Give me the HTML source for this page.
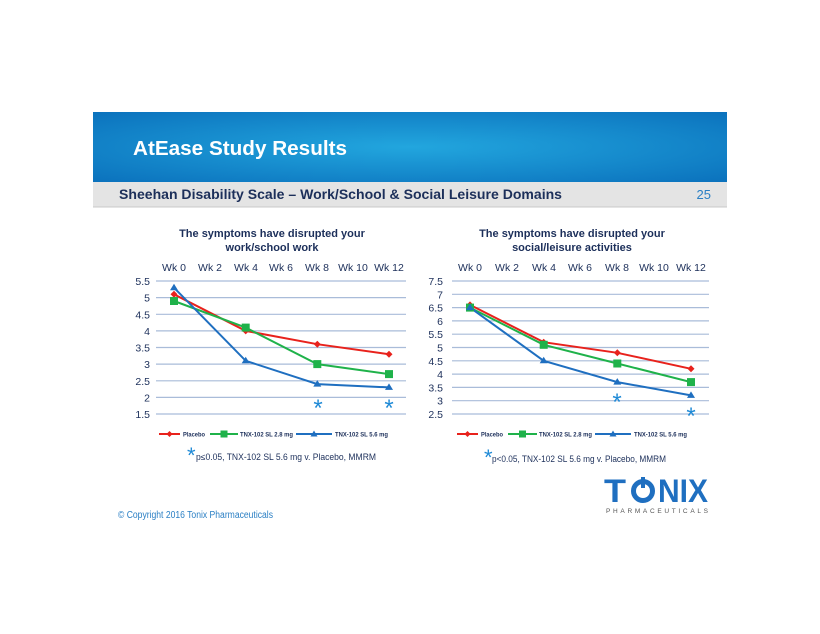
<!DOCTYPE html>
<html><head><meta charset="utf-8"><style>
body{margin:0;background:#fff;}
svg{display:block;font-family:"Liberation Sans","DejaVu Sans",sans-serif;}
</style></head><body>
<svg width="820" height="634" viewBox="0 0 820 634">
<defs>
<radialGradient id="bg" cx="0.5" cy="0.5" r="0.7">
<stop offset="0" stop-color="#22a6de"/><stop offset="1" stop-color="#0b72bd"/>
</radialGradient>
</defs>
<rect x="93" y="112" width="634" height="70" fill="url(#bg)"/>
<text x="133" y="155" font-size="20" font-weight="bold" fill="#fff" textLength="214" lengthAdjust="spacingAndGlyphs">AtEase Study Results</text>
<rect x="93" y="182" width="634" height="25" fill="#e4e4e4"/>
<line x1="93" y1="207" x2="727" y2="207" stroke="#c8c8c8"/>
<text x="119" y="199" font-size="14" font-weight="bold" fill="#1c2f5a" textLength="443" lengthAdjust="spacingAndGlyphs">Sheehan Disability Scale – Work/School &amp; Social Leisure Domains</text>
<text x="711" y="199" font-size="13" fill="#2a7fc4" text-anchor="end">25</text>

<g font-size="11" font-weight="bold" fill="#1c2f5a" text-anchor="middle">
<text x="272" y="237">The symptoms have disrupted your</text>
<text x="272" y="251">work/school work</text>
<text x="572" y="237">The symptoms have disrupted your</text>
<text x="572" y="251">social/leisure activities</text>
</g>
<g stroke="#a9bcd9" stroke-width="1.2">
<line x1="156" x2="406" y1="281" y2="281"/><line x1="156" x2="406" y1="297.6" y2="297.6"/><line x1="156" x2="406" y1="314.3" y2="314.3"/><line x1="156" x2="406" y1="330.9" y2="330.9"/><line x1="156" x2="406" y1="347.5" y2="347.5"/><line x1="156" x2="406" y1="364.1" y2="364.1"/><line x1="156" x2="406" y1="380.8" y2="380.8"/><line x1="156" x2="406" y1="397.4" y2="397.4"/><line x1="156" x2="406" y1="414" y2="414"/>
</g>
<g font-size="10.5" fill="#1c2f5a" text-anchor="end">
<text x="150" y="285">5.5</text><text x="150" y="301.6">5</text><text x="150" y="318.3">4.5</text><text x="150" y="334.9">4</text><text x="150" y="351.5">3.5</text><text x="150" y="368.1">3</text><text x="150" y="384.8">2.5</text><text x="150" y="401.4">2</text><text x="150" y="418">1.5</text>
</g>
<g font-size="10.5" fill="#1c2f5a" text-anchor="middle">
<text x="174" y="271">Wk 0</text><text x="210" y="271">Wk 2</text><text x="246" y="271">Wk 4</text><text x="281" y="271">Wk 6</text><text x="317" y="271">Wk 8</text><text x="353" y="271">Wk 10</text><text x="389" y="271">Wk 12</text>
</g>
<polyline points="174,294.3 245.7,330.9 317.3,344.2 389,354.2" fill="none" stroke="#e8221c" stroke-width="2"/>
<polyline points="174,301 245.7,327.6 317.3,364.1 389,374.1" fill="none" stroke="#1fb24a" stroke-width="2"/>
<polyline points="174,287.7 245.7,360.8 317.3,384.1 389,387.4" fill="none" stroke="#1f6fc0" stroke-width="2"/>
<g fill="#e8221c"><path d="M174,290.8l3.5,3.5-3.5,3.5-3.5-3.5z"/><path d="M245.7,327.4l3.5,3.5-3.5,3.5-3.5-3.5z"/><path d="M317.3,340.7l3.5,3.5-3.5,3.5-3.5-3.5z"/><path d="M389,350.7l3.5,3.5-3.5,3.5-3.5-3.5z"/></g>
<g fill="#1fb24a"><rect x="170" y="297" width="8" height="8"/><rect x="241.7" y="323.6" width="8" height="8"/><rect x="313.3" y="360.1" width="8" height="8"/><rect x="385" y="370.1" width="8" height="8"/></g>
<g fill="#1f6fc0"><path d="M174,283.7l4,6.5h-8z"/><path d="M245.7,356.8l4,6.5h-8z"/><path d="M317.3,380.1l4,6.5h-8z"/><path d="M389,383.4l4,6.5h-8z"/></g>
<g font-size="24" fill="#1f8ad6" text-anchor="middle"><text x="318" y="416">*</text><text x="389" y="416">*</text></g>
<g font-size="6.5" font-weight="bold" fill="#1c2f5a">
<line x1="159" x2="180" y1="434" y2="434" stroke="#e8221c" stroke-width="2"/><path d="M169.5,431l3,3-3,3-3-3z" fill="#e8221c"/><text x="183" y="436.5" textLength="22" lengthAdjust="spacingAndGlyphs">Placebo</text>
<line x1="210" x2="238" y1="434" y2="434" stroke="#1fb24a" stroke-width="2"/><rect x="220.5" y="430.5" width="7" height="7" fill="#1fb24a"/><text x="240" y="436.5" textLength="53" lengthAdjust="spacingAndGlyphs">TNX-102 SL 2.8 mg</text>
<line x1="296" x2="332" y1="434" y2="434" stroke="#1f6fc0" stroke-width="2"/><path d="M314,430.5l3.5,6h-7z" fill="#1f6fc0"/><text x="335" y="436.5" textLength="53" lengthAdjust="spacingAndGlyphs">TNX-102 SL 5.6 mg</text>
</g>
<text x="187" y="463" font-size="22" fill="#1f8ad6">*</text>
<text x="196" y="460" font-size="9" fill="#1c2f5a" textLength="180" lengthAdjust="spacingAndGlyphs">p≤0.05, TNX-102 SL 5.6 mg v. Placebo, MMRM</text>

<g stroke="#a9bcd9" stroke-width="1.2">
<line x1="452" x2="709" y1="281" y2="281"/><line x1="452" x2="709" y1="294.3" y2="294.3"/><line x1="452" x2="709" y1="307.6" y2="307.6"/><line x1="452" x2="709" y1="320.9" y2="320.9"/><line x1="452" x2="709" y1="334.2" y2="334.2"/><line x1="452" x2="709" y1="347.5" y2="347.5"/><line x1="452" x2="709" y1="360.8" y2="360.8"/><line x1="452" x2="709" y1="374.1" y2="374.1"/><line x1="452" x2="709" y1="387.4" y2="387.4"/><line x1="452" x2="709" y1="400.7" y2="400.7"/><line x1="452" x2="709" y1="414" y2="414"/>
</g>
<g font-size="10.5" fill="#1c2f5a" text-anchor="end">
<text x="443" y="285">7.5</text><text x="443" y="298.3">7</text><text x="443" y="311.6">6.5</text><text x="443" y="324.9">6</text><text x="443" y="338.2">5.5</text><text x="443" y="351.5">5</text><text x="443" y="364.8">4.5</text><text x="443" y="378.1">4</text><text x="443" y="391.4">3.5</text><text x="443" y="404.7">3</text><text x="443" y="418">2.5</text>
</g>
<g font-size="10.5" fill="#1c2f5a" text-anchor="middle">
<text x="470" y="271">Wk 0</text><text x="507" y="271">Wk 2</text><text x="544" y="271">Wk 4</text><text x="580" y="271">Wk 6</text><text x="617" y="271">Wk 8</text><text x="654" y="271">Wk 10</text><text x="691" y="271">Wk 12</text>
</g>
<polyline points="470,304.9 543.7,342.2 617.3,352.8 691,368.8" fill="none" stroke="#e8221c" stroke-width="2"/>
<polyline points="470,307.6 543.7,344.8 617.3,363.5 691,382.1" fill="none" stroke="#1fb24a" stroke-width="2"/>
<polyline points="470,307.6 543.7,360.8 617.3,382.1 691,395.4" fill="none" stroke="#1f6fc0" stroke-width="2"/>
<g fill="#e8221c"><path d="M470,301.4l3.5,3.5-3.5,3.5-3.5-3.5z"/><path d="M543.7,338.7l3.5,3.5-3.5,3.5-3.5-3.5z"/><path d="M617.3,349.3l3.5,3.5-3.5,3.5-3.5-3.5z"/><path d="M691,365.3l3.5,3.5-3.5,3.5-3.5-3.5z"/></g>
<g fill="#1fb24a"><rect x="466" y="303.6" width="8" height="8"/><rect x="539.7" y="340.8" width="8" height="8"/><rect x="613.3" y="359.5" width="8" height="8"/><rect x="687" y="378.1" width="8" height="8"/></g>
<g fill="#1f6fc0"><path d="M470,303.6l4,6.5h-8z"/><path d="M543.7,356.8l4,6.5h-8z"/><path d="M617.3,378.1l4,6.5h-8z"/><path d="M691,391.4l4,6.5h-8z"/></g>
<g font-size="24" fill="#1f8ad6" text-anchor="middle"><text x="617" y="410">*</text><text x="691" y="424">*</text></g>
<g font-size="6.5" font-weight="bold" fill="#1c2f5a">
<line x1="457" x2="478" y1="434" y2="434" stroke="#e8221c" stroke-width="2"/><path d="M467.5,431l3,3-3,3-3-3z" fill="#e8221c"/><text x="481" y="436.5" textLength="22" lengthAdjust="spacingAndGlyphs">Placebo</text>
<line x1="508" x2="537" y1="434" y2="434" stroke="#1fb24a" stroke-width="2"/><rect x="519" y="430.5" width="7" height="7" fill="#1fb24a"/><text x="539" y="436.5" textLength="53" lengthAdjust="spacingAndGlyphs">TNX-102 SL 2.8 mg</text>
<line x1="595" x2="631" y1="434" y2="434" stroke="#1f6fc0" stroke-width="2"/><path d="M613,430.5l3.5,6h-7z" fill="#1f6fc0"/><text x="634" y="436.5" textLength="53" lengthAdjust="spacingAndGlyphs">TNX-102 SL 5.6 mg</text>
</g>
<text x="484" y="465" font-size="22" fill="#1f8ad6">*</text>
<text x="492" y="462" font-size="9" fill="#1c2f5a" textLength="174" lengthAdjust="spacingAndGlyphs">p&lt;0.05, TNX-102 SL 5.6 mg v. Placebo, MMRM</text>

<g font-weight="bold" fill="#1f6fc0" font-size="32">
<text x="604" y="502" textLength="22" lengthAdjust="spacingAndGlyphs">T</text>
<circle cx="643" cy="491" r="9.5" fill="none" stroke="#1f6fc0" stroke-width="5"/>
<rect x="641" y="477" width="4" height="11" fill="#1f6fc0"/>
<text x="658" y="502" textLength="50" lengthAdjust="spacingAndGlyphs">NIX</text>
</g>
<text x="606" y="513" font-size="6.5" fill="#555" textLength="102" lengthAdjust="spacing">PHARMACEUTICALS</text>
<text x="118" y="518" font-size="10" fill="#2a7fc4" textLength="155" lengthAdjust="spacingAndGlyphs">© Copyright 2016 Tonix Pharmaceuticals</text>
</svg>
</body></html>
